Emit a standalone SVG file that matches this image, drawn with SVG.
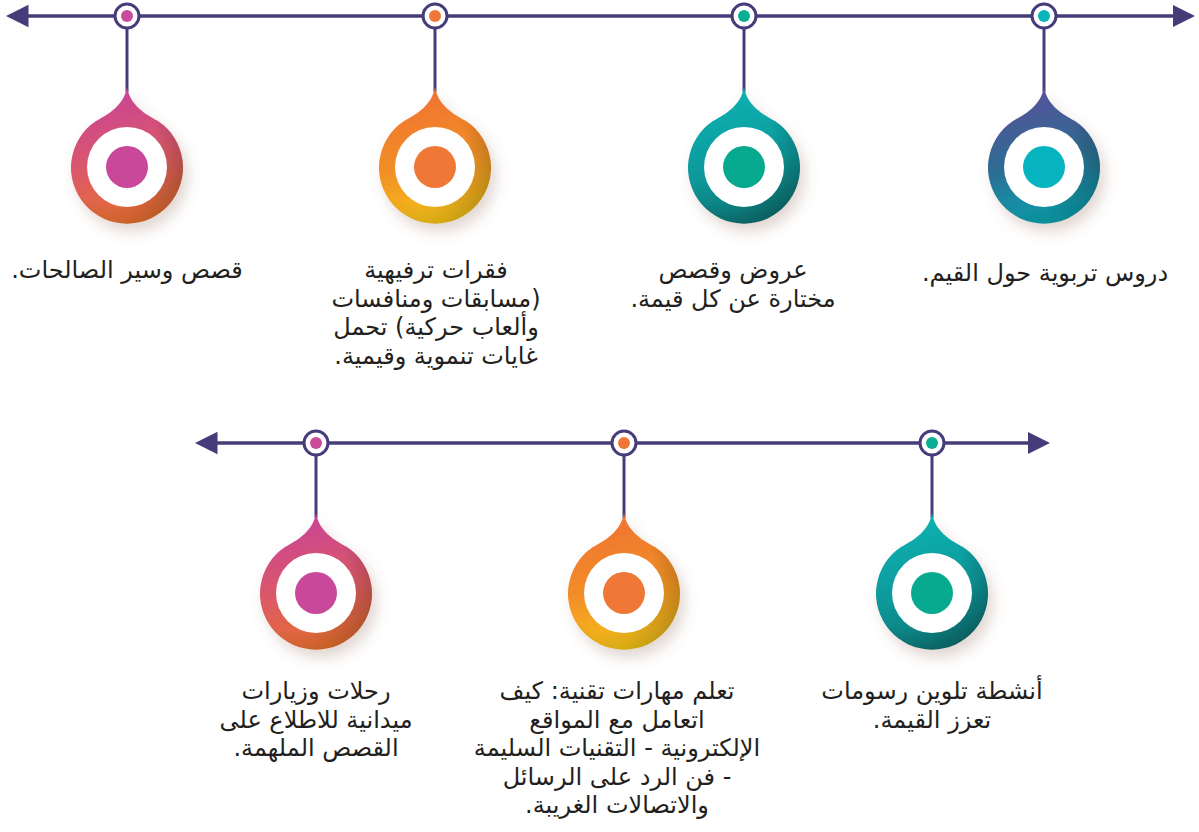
<svg xmlns="http://www.w3.org/2000/svg" width="1199" height="832" viewBox="0 0 1199 832">
<style>
.ln{stroke:#463C7A;stroke-width:3;fill:none}
.ring{fill:#fff;stroke:#463C7A;stroke-width:3}
.txt{font-family:"DejaVu Sans",sans-serif;font-size:24px;fill:#231F20;text-anchor:middle}
.white{fill:#fff}
</style>
<defs>
<marker id="ah" viewBox="0 0 10 10" refX="2" refY="5" markerWidth="7.5" markerHeight="8.5" markerUnits="strokeWidth" orient="auto"><path d="M0,0 L10,5 L0,10 Z" fill="#463C7A"/></marker>
<linearGradient id="gPink" x1="0.3" y1="0" x2="0.5" y2="1">
<stop offset="0" stop-color="#C8439A"/><stop offset="0.5" stop-color="#D9566E"/><stop offset="1" stop-color="#E8702E"/></linearGradient>
<linearGradient id="gOrange" x1="0.3" y1="0" x2="0.5" y2="1">
<stop offset="0" stop-color="#EF6F33"/><stop offset="0.55" stop-color="#F28F27"/><stop offset="1" stop-color="#F6C318"/></linearGradient>
<linearGradient id="gTeal" x1="0.3" y1="0" x2="0.5" y2="1">
<stop offset="0" stop-color="#11B3B3"/><stop offset="0.6" stop-color="#10989A"/><stop offset="1" stop-color="#0C7474"/></linearGradient>
<linearGradient id="gBlue" x1="0.3" y1="0" x2="0.5" y2="1">
<stop offset="0" stop-color="#5B4E9C"/><stop offset="0.55" stop-color="#2D6D92"/><stop offset="1" stop-color="#0AA4B1"/></linearGradient>
<radialGradient id="shade" cx="0.3" cy="0.4" r="0.75">
<stop offset="0.6" stop-color="#000" stop-opacity="0"/><stop offset="1" stop-color="#000" stop-opacity="0.22"/></radialGradient>
<filter id="sh" x="-40%" y="-40%" width="180%" height="180%"><feDropShadow dx="5" dy="8" stdDeviation="7" flood-color="#8a5a4a" flood-opacity="0.25"/></filter>
<path id="drop" d="M0,-80 C3,-62 18,-53 31,-46 A56,56 0 1 1 -31,-46 C-18,-53 -3,-62 0,-80 Z"/>
</defs>

<g id="connectors">
<line class="ln" x1="1177" y1="16" x2="24" y2="16" marker-end="url(#ah)"/>
<line class="ln" x1="24" y1="16" x2="1177" y2="16" marker-end="url(#ah)"/>
<line class="ln" x1="1032" y1="443" x2="213" y2="443" marker-end="url(#ah)"/>
<line class="ln" x1="213" y1="443" x2="1032" y2="443" marker-end="url(#ah)"/>
<line class="ln" x1="127" y1="16" x2="127" y2="92"/>
<line class="ln" x1="435" y1="16" x2="435" y2="92"/>
<line class="ln" x1="744" y1="16" x2="744" y2="92"/>
<line class="ln" x1="1044" y1="16" x2="1044" y2="92"/>
<line class="ln" x1="316" y1="443" x2="316" y2="518"/>
<line class="ln" x1="624" y1="443" x2="624" y2="518"/>
<line class="ln" x1="932" y1="443" x2="932" y2="518"/>
</g>

<g id="n1">
<circle class="ring" cx="127" cy="16" r="12"/><circle cx="127" cy="16" r="6" fill="#CB4A9A"/>
<g transform="translate(127,167)"><use href="#drop" fill="url(#gPink)" filter="url(#sh)"/><use href="#drop" fill="url(#shade)"/><circle class="white" r="40"/><circle r="21" fill="#C9489A"/></g>
<text class="txt" x="127" y="278" direction="rtl">قصص وسير الصالحات.</text>
</g>

<g id="n2">
<circle class="ring" cx="435" cy="16" r="12"/><circle cx="435" cy="16" r="6" fill="#F07836"/>
<g transform="translate(435,167)"><use href="#drop" fill="url(#gOrange)" filter="url(#sh)"/><use href="#drop" fill="url(#shade)"/><circle class="white" r="40"/><circle r="21" fill="#F07836"/></g>
<text class="txt" direction="rtl"><tspan x="436" y="278">فقرات ترفيهية</tspan><tspan x="436" y="306.5">(مسابقات ومنافسات</tspan><tspan x="436" y="335">وألعاب حركية) تحمل</tspan><tspan x="436" y="363.5">غايات تنموية وقيمية.</tspan></text>
</g>

<g id="n3">
<circle class="ring" cx="744" cy="16" r="12"/><circle cx="744" cy="16" r="6" fill="#0AAE95"/>
<g transform="translate(744,167)"><use href="#drop" fill="url(#gTeal)" filter="url(#sh)"/><use href="#drop" fill="url(#shade)"/><circle class="white" r="40"/><circle r="21" fill="#08AA8F"/></g>
<text class="txt" direction="rtl"><tspan x="733" y="278">عروض وقصص</tspan><tspan x="733" y="306.5">مختارة عن كل قيمة.</tspan></text>
</g>

<g id="n4">
<circle class="ring" cx="1044" cy="16" r="12"/><circle cx="1044" cy="16" r="6" fill="#0BB5BE"/>
<g transform="translate(1044,167)"><use href="#drop" fill="url(#gBlue)" filter="url(#sh)"/><use href="#drop" fill="url(#shade)"/><circle class="white" r="40"/><circle r="21" fill="#06B4BF"/></g>
<text class="txt" x="1045" y="281" direction="rtl">دروس تربوية حول القيم.</text>
</g>

<g id="n5">
<circle class="ring" cx="316" cy="443" r="12"/><circle cx="316" cy="443" r="6" fill="#CB4A9A"/>
<g transform="translate(316,593)"><use href="#drop" fill="url(#gPink)" filter="url(#sh)"/><use href="#drop" fill="url(#shade)"/><circle class="white" r="40"/><circle r="21" fill="#C9489A"/></g>
<text class="txt" direction="rtl"><tspan x="316" y="699">رحلات وزيارات</tspan><tspan x="316" y="727.5">ميدانية للاطلاع على</tspan><tspan x="316" y="756">القصص الملهمة.</tspan></text>
</g>

<g id="n6">
<circle class="ring" cx="624" cy="443" r="12"/><circle cx="624" cy="443" r="6" fill="#F07836"/>
<g transform="translate(624,593)"><use href="#drop" fill="url(#gOrange)" filter="url(#sh)"/><use href="#drop" fill="url(#shade)"/><circle class="white" r="40"/><circle r="21" fill="#F07836"/></g>
<text class="txt" direction="rtl"><tspan x="617" y="699">تعلم مهارات تقنية: كيف</tspan><tspan x="617" y="727.5">اتعامل مع المواقع</tspan><tspan x="617" y="756">الإلكترونية - التقنيات السليمة</tspan><tspan x="617" y="784.5">- فن الرد على الرسائل</tspan><tspan x="617" y="813">والاتصالات الغريبة.</tspan></text>
</g>

<g id="n7">
<circle class="ring" cx="932" cy="443" r="12"/><circle cx="932" cy="443" r="6" fill="#0AAE95"/>
<g transform="translate(932,593)"><use href="#drop" fill="url(#gTeal)" filter="url(#sh)"/><use href="#drop" fill="url(#shade)"/><circle class="white" r="40"/><circle r="21" fill="#08AA8F"/></g>
<text class="txt" direction="rtl"><tspan x="932" y="699">أنشطة تلوين رسومات</tspan><tspan x="932" y="727.5">تعزز القيمة.</tspan></text>
</g>
</svg>
